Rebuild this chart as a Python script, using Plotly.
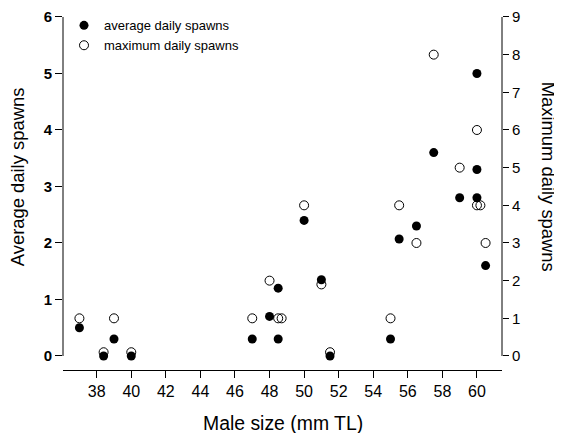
import plotly.graph_objects as go

# Data
size_avg = [37, 38.4, 39, 40, 47, 48, 48.5, 48.5, 50, 51, 51.5, 55, 55.5, 56.5, 57.5, 59, 60, 60, 60, 60.5]
avg_spawns = [0.5, 0, 0.3, 0, 0.3, 0.7, 1.2, 0.3, 2.4, 1.35, 0, 0.3, 2.07, 2.3, 3.6, 2.8, 5.0, 3.3, 2.8, 1.6]

size_max = [37, 38.4, 39, 40, 47, 48, 48.5, 48.7, 50, 51, 51.5, 55, 55.5, 56.5, 57.5, 59, 60, 60, 60.2, 60.5]
max_spawns = [1, 0.1, 1, 0.1, 1, 2, 1, 1, 4, 1.9, 0.1, 1, 4, 3, 8, 5, 6, 4, 4, 3]

x_ticks = [38, 40, 42, 44, 46, 48, 50, 52, 54, 56, 58, 60]
y_left_ticks = [0, 1, 2, 3, 4, 5, 6]
y_right_ticks = [0, 1, 2, 3, 4, 5, 6, 7, 8, 9]

FONT = "Liberation Sans, Arial, Helvetica, sans-serif"

fig = go.Figure()
fig.add_trace(go.Scatter(
    x=size_avg, y=avg_spawns, mode="markers", name="average daily spawns",
    marker=dict(symbol="circle", size=9, color="black", line=dict(width=0)),
    yaxis="y",
))
fig.add_trace(go.Scatter(
    x=size_max, y=max_spawns, mode="markers", name="maximum daily spawns",
    marker=dict(symbol="circle-open", size=9, color="black", line=dict(width=1)),
    yaxis="y2",
))

# The page body has an 8px default margin, so the figure is 8px smaller
# and offset to land on the same pixels as the reference.
fig.update_layout(
    width=554, height=425,
    margin=dict(l=55, r=60, t=0, b=63),
    paper_bgcolor="white", plot_bgcolor="white",
    font=dict(family=FONT, color="black"),
    showlegend=True,
    legend=dict(
        x=0.0023, y=0.9934, xanchor="left", yanchor="top",
        bgcolor="rgba(0,0,0,0)", borderwidth=0, tracegroupgap=0,
        font=dict(family=FONT, size=13, color="black"),
    ),
    xaxis=dict(
        range=[36.05, 61.45], tickvals=x_ticks, ticks="outside", ticklen=7,
        tickcolor="black", tickwidth=1, showline=True, linecolor="black", linewidth=1,
        showgrid=False, zeroline=False, tickfont=dict(family=FONT, size=16, color="black"),
    ),
    yaxis=dict(
        range=[-0.248, 6.159], tickvals=y_left_ticks, ticks="outside", ticklen=7,
        tickcolor="black", tickwidth=1, showline=False, showgrid=False, zeroline=False,
        tickfont=dict(family=FONT, size=15, color="black", weight="bold"),
    ),
    yaxis2=dict(
        range=[-0.372, 9.2385], tickvals=y_right_ticks, ticks="outside", ticklen=6,
        tickcolor="black", tickwidth=1, showline=False, showgrid=False, zeroline=False,
        overlaying="y", side="right", anchor="x",
        tickfont=dict(family=FONT, size=15, color="black"),
    ),
    shapes=[
        dict(type="line", xref="paper", yref="y", x0=0, x1=0, y0=0, y1=6,
             line=dict(color="black", width=1)),
        dict(type="line", xref="paper", yref="y2", x0=1, x1=1, y0=0, y1=9,
             line=dict(color="black", width=1)),
    ],
    annotations=[
        dict(text="Male size (mm TL)", xref="paper", yref="paper", x=0.5, y=-0.1456,
             xanchor="center", yanchor="middle", showarrow=False,
             font=dict(family=FONT, size=19.4, color="black")),
        dict(text="Average daily spawns", xref="paper", yref="paper", x=-0.1036, y=0.534,
             xanchor="center", yanchor="middle", showarrow=False, textangle=-90,
             font=dict(family=FONT, size=18.4, color="black")),
        dict(text="Maximum daily spawns", xref="paper", yref="paper", x=1.1048, y=0.534,
             xanchor="center", yanchor="middle", showarrow=False, textangle=90,
             font=dict(family=FONT, size=18.4, color="black")),
    ],
)

fig.write_html("out.html")
